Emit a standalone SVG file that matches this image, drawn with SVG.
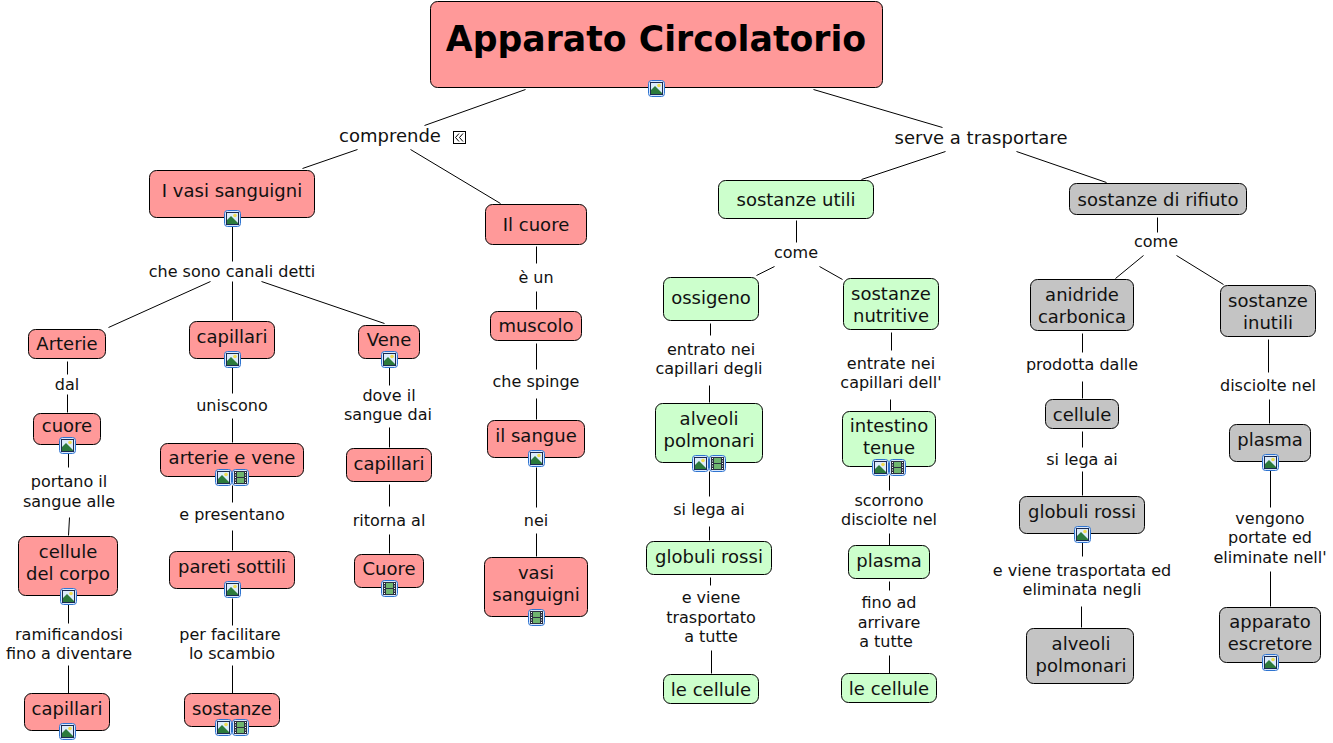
<svg xmlns="http://www.w3.org/2000/svg" width="1333" height="743" viewBox="0 0 1333 743">
<style>
text{font-family:"DejaVu Sans",Verdana,sans-serif;fill:#111;text-anchor:middle}
.n{font-size:18px}.l{font-size:16px}.h{font-size:18px}
.r rect.b{fill:#ff9999}.g rect.b{fill:#ccffcc}.y rect.b{fill:#c4c4c4}
rect.b{stroke:#000;stroke-width:1;transform:translate(.5px,.5px)}
#c path{stroke:#000;stroke-width:1;fill:none;transform:translate(.5px,.5px)}
</style>
<defs>
<g id="img"><rect x="-7.500" y="-7.500" width="16" height="16" rx="3" fill="#d8e8ff" stroke="#2f74d0"/><rect x="-5.500" y="-5.500" width="12" height="12" fill="#dcecfb" stroke="#1a2a50"/><circle cx="3" cy="-2.500" r="1.800" fill="#f0dc50"/><path d="M-5 6V2L-1 -2L6 5V6Z" fill="#2c7a3c"/></g>
<g id="mov"><rect x="-7.500" y="-7.500" width="16" height="16" rx="3" fill="#d8e8ff" stroke="#2f74d0"/><rect x="-6" y="-6" width="13" height="13" fill="#2a3040"/><rect x="-3" y="-5" width="7" height="5" fill="#6fb56f"/><rect x="-3" y="1" width="7" height="5" fill="#6fb56f"/><path d="M-5 -4.500h1M-5 -2h1M-5 .5h1M-5 3h1M-5 5.500h1M5 -4.500h1M5 -2h1M5 .5h1M5 3h1M5 5.500h1" stroke="#fff"/></g>
</defs>
<g id="c">
<path d="M525 89L424 125M813 89L942 127"/>
<path d="M357 149L302 168M410 149L500 203M945 151L861 179M1016 151L1106 182"/>
<path d="M232 226V261M232 281V320M210 281L108 327M261 281L384 323"/>
<path d="M536 246V263M536 291V309M536 343V369M536 398V419M536 467V507M536 533V556"/>
<path d="M796 220V242M774 266L756 275M819 266L842 279"/>
<path d="M1157 217V232M1143 255L1115 278M1176 255L1223 284"/>
<path d="M67 361V374M67 394V412M68 453V467M69 517L68 535M68 604V623M68 665V693"/>
<path d="M232 367V393M232 418V442M232 485V502M232 530V550M232 598V625M232 665V693"/>
<path d="M389 367V385M389 427V447M389 484V506M389 534V553"/>
<path d="M710 323V335M709 385V402M709 471V496M709 526V540M710 577V585M711 650V673"/>
<path d="M891 332V350M890 399V410M889 475V490M889 533V545M889 581V590M889 655V673"/>
<path d="M1082 333V352M1082 381V398M1082 431V447M1082 471V495M1082 542V556M1081 606V627"/>
<path d="M1268 339V372M1269 399V423M1270 470V507M1270 571V606"/>
</g>
<g id="n-root" class="r"><rect class="b" x="430" y="1" width="452" height="86" rx="7"/><text x="656" y="51" font-size="34.7" font-weight="bold" style="fill:#000">Apparato Circolatorio</text><use href="#img" x="656" y="88"/></g>
<g id="n1" class="r"><rect class="b" x="149" y="170" width="165" height="47" rx="7"/><text class="n" x="232" y="197">I vasi sanguigni</text><use href="#img" x="232" y="218"/></g>
<g id="n2" class="r"><rect class="b" x="485" y="204" width="101" height="40" rx="7"/><text class="n" x="536" y="231">Il cuore</text></g>
<g id="n3" class="g"><rect class="b" x="718" y="180" width="155" height="38" rx="7"/><text class="n" x="796" y="206">sostanze utili</text></g>
<g id="n4" class="y"><rect class="b" x="1069" y="183" width="177" height="31" rx="7"/><text class="n" x="1158" y="206">sostanze di rifiuto</text></g>
<g id="n5" class="r"><rect class="b" x="28" y="329" width="77" height="29" rx="7"/><text class="n" x="67" y="350">Arterie</text></g>
<g id="n6" class="r"><rect class="b" x="189" y="321" width="85" height="37" rx="7"/><text class="n" x="232" y="343">capillari</text><use href="#img" x="232" y="359"/></g>
<g id="n7" class="r"><rect class="b" x="358" y="325" width="61" height="33" rx="7"/><text class="n" x="389" y="346">Vene</text><use href="#img" x="389" y="359"/></g>
<g id="n8" class="r"><rect class="b" x="490" y="311" width="91" height="29" rx="7"/><text class="n" x="536" y="332">muscolo</text></g>
<g id="n9" class="r"><rect class="b" x="33" y="413" width="67" height="31" rx="7"/><text class="n" x="67" y="432">cuore</text><use href="#img" x="67" y="445"/></g>
<g id="n10" class="r"><rect class="b" x="160" y="443" width="143" height="33" rx="7"/><text class="n" x="232" y="464">arterie e vene</text><use href="#img" x="223" y="477"/><use href="#mov" x="240" y="477"/></g>
<g id="n11" class="r"><rect class="b" x="346" y="448" width="85" height="33" rx="7"/><text class="n" x="389" y="470">capillari</text></g>
<g id="n12" class="r"><rect class="b" x="487" y="420" width="97" height="37" rx="7"/><text class="n" x="536" y="442">il sangue</text><use href="#img" x="536" y="458"/></g>
<g id="n13" class="r"><rect class="b" x="18" y="536" width="99" height="59" rx="7"/><text class="n" x="68" y="558">cellule</text><text class="n" x="68" y="580">del corpo</text><use href="#img" x="68" y="596"/></g>
<g id="n14" class="r"><rect class="b" x="169" y="551" width="125" height="37" rx="7"/><text class="n" x="232" y="573">pareti sottili</text><use href="#img" x="232" y="589"/></g>
<g id="n15" class="r"><rect class="b" x="354" y="554" width="69" height="33" rx="7"/><text class="n" x="389" y="575">Cuore</text><use href="#mov" x="389" y="588"/></g>
<g id="n16" class="r"><rect class="b" x="484" y="557" width="103" height="59" rx="7"/><text class="n" x="536" y="579">vasi</text><text class="n" x="536" y="601">sanguigni</text><use href="#mov" x="536" y="617"/></g>
<g id="n17" class="r"><rect class="b" x="24" y="693" width="85" height="37" rx="7"/><text class="n" x="67" y="715">capillari</text><use href="#img" x="67" y="731"/></g>
<g id="n18" class="r"><rect class="b" x="184" y="693" width="95" height="33" rx="7"/><text class="n" x="232" y="715">sostanze</text><use href="#img" x="223" y="727"/><use href="#mov" x="240" y="727"/></g>
<g id="n19" class="g"><rect class="b" x="663" y="277" width="95" height="43" rx="7"/><text class="n" x="711" y="304">ossigeno</text></g>
<g id="n20" class="g"><rect class="b" x="843" y="278" width="95" height="51" rx="7"/><text class="n" x="891" y="300">sostanze</text><text class="n" x="891" y="322">nutritive</text></g>
<g id="n21" class="g"><rect class="b" x="655" y="403" width="107" height="59" rx="7"/><text class="n" x="709" y="425">alveoli</text><text class="n" x="709" y="447">polmonari</text><use href="#img" x="700" y="463"/><use href="#mov" x="717" y="463"/></g>
<g id="n22" class="g"><rect class="b" x="842" y="411" width="93" height="55" rx="7"/><text class="n" x="889" y="432">intestino</text><text class="n" x="889" y="454">tenue</text><use href="#img" x="880" y="467"/><use href="#mov" x="897" y="467"/></g>
<g id="n23" class="g"><rect class="b" x="646" y="541" width="125" height="33" rx="7"/><text class="n" x="709" y="563">globuli rossi</text></g>
<g id="n24" class="g"><rect class="b" x="848" y="545" width="81" height="33" rx="7"/><text class="n" x="889" y="567">plasma</text></g>
<g id="n25" class="g"><rect class="b" x="663" y="674" width="95" height="29" rx="7"/><text class="n" x="711" y="696">le cellule</text></g>
<g id="n26" class="g"><rect class="b" x="841" y="673" width="95" height="29" rx="7"/><text class="n" x="889" y="695">le cellule</text></g>
<g id="n27" class="y"><rect class="b" x="1030" y="279" width="103" height="51" rx="7"/><text class="n" x="1082" y="301">anidride</text><text class="n" x="1082" y="323">carbonica</text></g>
<g id="n28" class="y"><rect class="b" x="1220" y="285" width="95" height="51" rx="7"/><text class="n" x="1268" y="307">sostanze</text><text class="n" x="1268" y="329">inutili</text></g>
<g id="n29" class="y"><rect class="b" x="1045" y="399" width="73" height="29" rx="7"/><text class="n" x="1082" y="421">cellule</text></g>
<g id="n30" class="y"><rect class="b" x="1019" y="496" width="125" height="37" rx="7"/><text class="n" x="1082" y="518">globuli rossi</text><use href="#img" x="1082" y="534"/></g>
<g id="n31" class="y"><rect class="b" x="1026" y="628" width="107" height="55" rx="7"/><text class="n" x="1081" y="650">alveoli</text><text class="n" x="1081" y="672">polmonari</text></g>
<g id="n32" class="y"><rect class="b" x="1229" y="424" width="81" height="37" rx="7"/><text class="n" x="1270" y="446">plasma</text><use href="#img" x="1270" y="462"/></g>
<g id="n33" class="y"><rect class="b" x="1219" y="607" width="101" height="55" rx="7"/><text class="n" x="1270" y="628">apparato</text><text class="n" x="1270" y="650">escretore</text><use href="#img" x="1270" y="662"/></g>
<g id="labels">
<text class="h" x="390" y="142">comprende</text>
<rect x="453.500" y="131.500" width="12" height="12" fill="#fff" stroke="#000"/><path d="M459 133.500l-3.500 4l3.500 4M463 133.500l-3.500 4l3.500 4" fill="none" stroke="#000"/>
<text class="h" x="981" y="144">serve a trasportare</text>
<text class="l" x="232" y="277">che sono canali detti</text>
<text class="l" x="536" y="283">è un</text>
<text class="l" x="536" y="387">che spinge</text>
<text class="l" x="536" y="526">nei</text>
<text class="l" x="796" y="258">come</text>
<text class="l" x="1156" y="247">come</text>
<text class="l" x="67" y="390">dal</text>
<text class="l" x="69" y="487">portano il</text><text class="l" x="69" y="507">sangue alle</text>
<text class="l" x="69" y="640">ramificandosi</text><text class="l" x="69" y="659">fino a diventare</text>
<text class="l" x="232" y="411">uniscono</text>
<text class="l" x="232" y="520">e presentano</text>
<text class="l" x="230" y="640">per facilitare</text><text class="l" x="232" y="659">lo scambio</text>
<text class="l" x="389" y="401">dove il</text><text class="l" x="388" y="420">sangue dai</text>
<text class="l" x="389" y="526">ritorna al</text>
<text class="l" x="711" y="355">entrato nei</text><text class="l" x="709" y="374">capillari degli</text>
<text class="l" x="709" y="515">si lega ai</text>
<text class="l" x="711" y="603">e viene</text><text class="l" x="711" y="623">trasportato</text><text class="l" x="711" y="642">a tutte</text>
<text class="l" x="891" y="369">entrate nei</text><text class="l" x="891" y="388">capillari dell'</text>
<text class="l" x="889" y="506">scorrono</text><text class="l" x="889" y="525">disciolte nel</text>
<text class="l" x="889" y="608">fino ad</text><text class="l" x="889" y="628">arrivare</text><text class="l" x="886" y="647">a tutte</text>
<text class="l" x="1082" y="370">prodotta dalle</text>
<text class="l" x="1082" y="465">si lega ai</text>
<text class="l" x="1082" y="576">e viene trasportata ed</text><text class="l" x="1082" y="595">eliminata negli</text>
<text class="l" x="1268" y="391">disciolte nel</text>
<text class="l" x="1270" y="524">vengono</text><text class="l" x="1270" y="543">portate ed</text><text class="l" x="1270" y="563">eliminate nell'</text>
</g>
</svg>
